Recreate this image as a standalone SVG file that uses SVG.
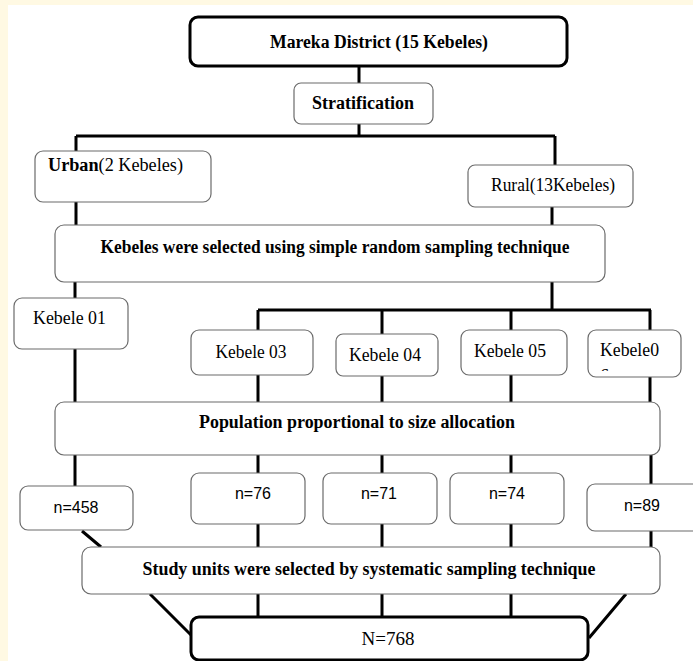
<svg xmlns="http://www.w3.org/2000/svg" width="693" height="661" viewBox="0 0 693 661">
<style>
.thin{fill:#fff;stroke:#6b6b6b;stroke-width:1.2}
.thick{fill:#fff;stroke:#000;stroke-width:3}
.c{fill:none;stroke:#000;stroke-width:3}
.sb{font-family:"Liberation Serif",serif;font-weight:bold;font-size:18px;fill:#000}
.sr{font-family:"Liberation Serif",serif;font-size:18px;fill:#000}
.ss{font-family:"Liberation Sans","Open Sans",sans-serif;font-size:16px;fill:#000}
</style>
<defs>
<clipPath id="k6clip"><rect x="588" y="330" width="93" height="41"/></clipPath>
</defs>
<rect x="0" y="0" width="693" height="661" fill="#FFF9E3"/>
<rect x="8" y="5" width="685" height="656" fill="#fff"/>
<g id="connectors">
<path class="c" d="M359 66V83M359 124V136M76 136H555M76 136V151M555 136V165"/>
<path class="c" d="M76 202V225M552 207V225"/>
<path class="c" d="M75 282V298M552 282V310M258 310H651M258 310V330M382 310V334M511 310V330M650 310V330"/>
<path class="c" d="M75 349V402M258 375V402M382 376V402M511 375V402M650 377V402"/>
<path class="c" d="M75 455V486M258 455V473M382 455V473M511 455V473M651 455V484"/>
<path class="c" d="M82 531L101 547M258 524V547M382 524V547M511 524V547M651 531V547"/>
<path class="c" d="M150 594L191 635M258 594V617M382 594V617M511 594V617M626 594L589 638"/>
</g>
<g id="n-district"><rect class="thick" x="190" y="17" width="377" height="49" rx="8"/><text class="sb" x="379" y="48" text-anchor="middle" textLength="218" lengthAdjust="spacingAndGlyphs">Mareka District (15 Kebeles)</text></g>
<g id="n-strat"><rect class="thin" x="294" y="83" width="139" height="41" rx="7"/><text class="sb" x="363" y="109" text-anchor="middle" textLength="102" lengthAdjust="spacingAndGlyphs">Stratification</text></g>
<g id="n-urban"><rect class="thin" x="35" y="151" width="176" height="51" rx="8"/><text class="sr" x="48" y="171" textLength="135" lengthAdjust="spacingAndGlyphs"><tspan font-weight="bold">Urban</tspan>(2 Kebeles)</text></g>
<g id="n-rural"><rect class="thin" x="468" y="165" width="165" height="42" rx="7"/><text class="sr" x="553" y="191" text-anchor="middle" textLength="124" lengthAdjust="spacingAndGlyphs">Rural(13Kebeles)</text></g>
<g id="n-select"><rect class="thin" x="55" y="225" width="550" height="57" rx="9"/><text class="sb" x="335" y="253" text-anchor="middle" textLength="469" lengthAdjust="spacingAndGlyphs">Kebeles were selected  using simple random sampling technique</text></g>
<g id="n-k01"><rect class="thin" x="14" y="298" width="114" height="51" rx="8"/><text class="sr" x="33" y="324" textLength="73" lengthAdjust="spacingAndGlyphs">Kebele 01</text></g>
<g id="n-k03"><rect class="thin" x="191" y="330" width="122" height="45" rx="8"/><text class="sr" x="251" y="358" text-anchor="middle" textLength="71" lengthAdjust="spacingAndGlyphs">Kebele 03</text></g>
<g id="n-k04"><rect class="thin" x="336" y="334" width="102" height="42" rx="7"/><text class="sr" x="385" y="361" text-anchor="middle" textLength="72" lengthAdjust="spacingAndGlyphs">Kebele 04</text></g>
<g id="n-k05"><rect class="thin" x="461" y="330" width="106" height="45" rx="8"/><text class="sr" x="510" y="357" text-anchor="middle" textLength="72" lengthAdjust="spacingAndGlyphs">Kebele 05</text></g>
<g id="n-k06"><rect class="thin" x="588" y="330" width="93" height="47" rx="8"/><text class="sr" x="600" y="356" textLength="59" lengthAdjust="spacingAndGlyphs">Kebele0</text><text class="sr" x="600" y="382" clip-path="url(#k6clip)">6</text></g>
<g id="n-pps"><rect class="thin" x="55" y="402" width="605" height="53" rx="9"/><text class="sb" x="357" y="428" text-anchor="middle" textLength="316" lengthAdjust="spacingAndGlyphs">Population proportional to size allocation</text></g>
<g id="n-458"><rect class="thin" x="20" y="486" width="113" height="44" rx="8"/><text class="ss" x="76" y="513" text-anchor="middle">n=458</text></g>
<g id="n-76"><rect class="thin" x="191" y="473" width="114" height="51" rx="8"/><text class="ss" x="253" y="499" text-anchor="middle">n=76</text></g>
<g id="n-71"><rect class="thin" x="323" y="473" width="114" height="51" rx="8"/><text class="ss" x="379" y="499" text-anchor="middle">n=71</text></g>
<g id="n-74"><rect class="thin" x="450" y="473" width="114" height="51" rx="8"/><text class="ss" x="507" y="499" text-anchor="middle">n=74</text></g>
<g id="n-89"><rect class="thin" x="587" y="484" width="120" height="47" rx="8"/><text class="ss" x="642" y="511" text-anchor="middle">n=89</text></g>
<g id="n-study"><rect class="thin" x="82" y="547" width="578" height="47" rx="9"/><text class="sb" x="369" y="575" text-anchor="middle" textLength="453" lengthAdjust="spacingAndGlyphs">Study units were selected  by systematic sampling technique</text></g>
<g id="n-total"><rect class="thick" x="191" y="617" width="397" height="43" rx="8"/><text class="sr" x="388" y="645" text-anchor="middle" textLength="53" lengthAdjust="spacingAndGlyphs">N=768</text></g>
</svg>
